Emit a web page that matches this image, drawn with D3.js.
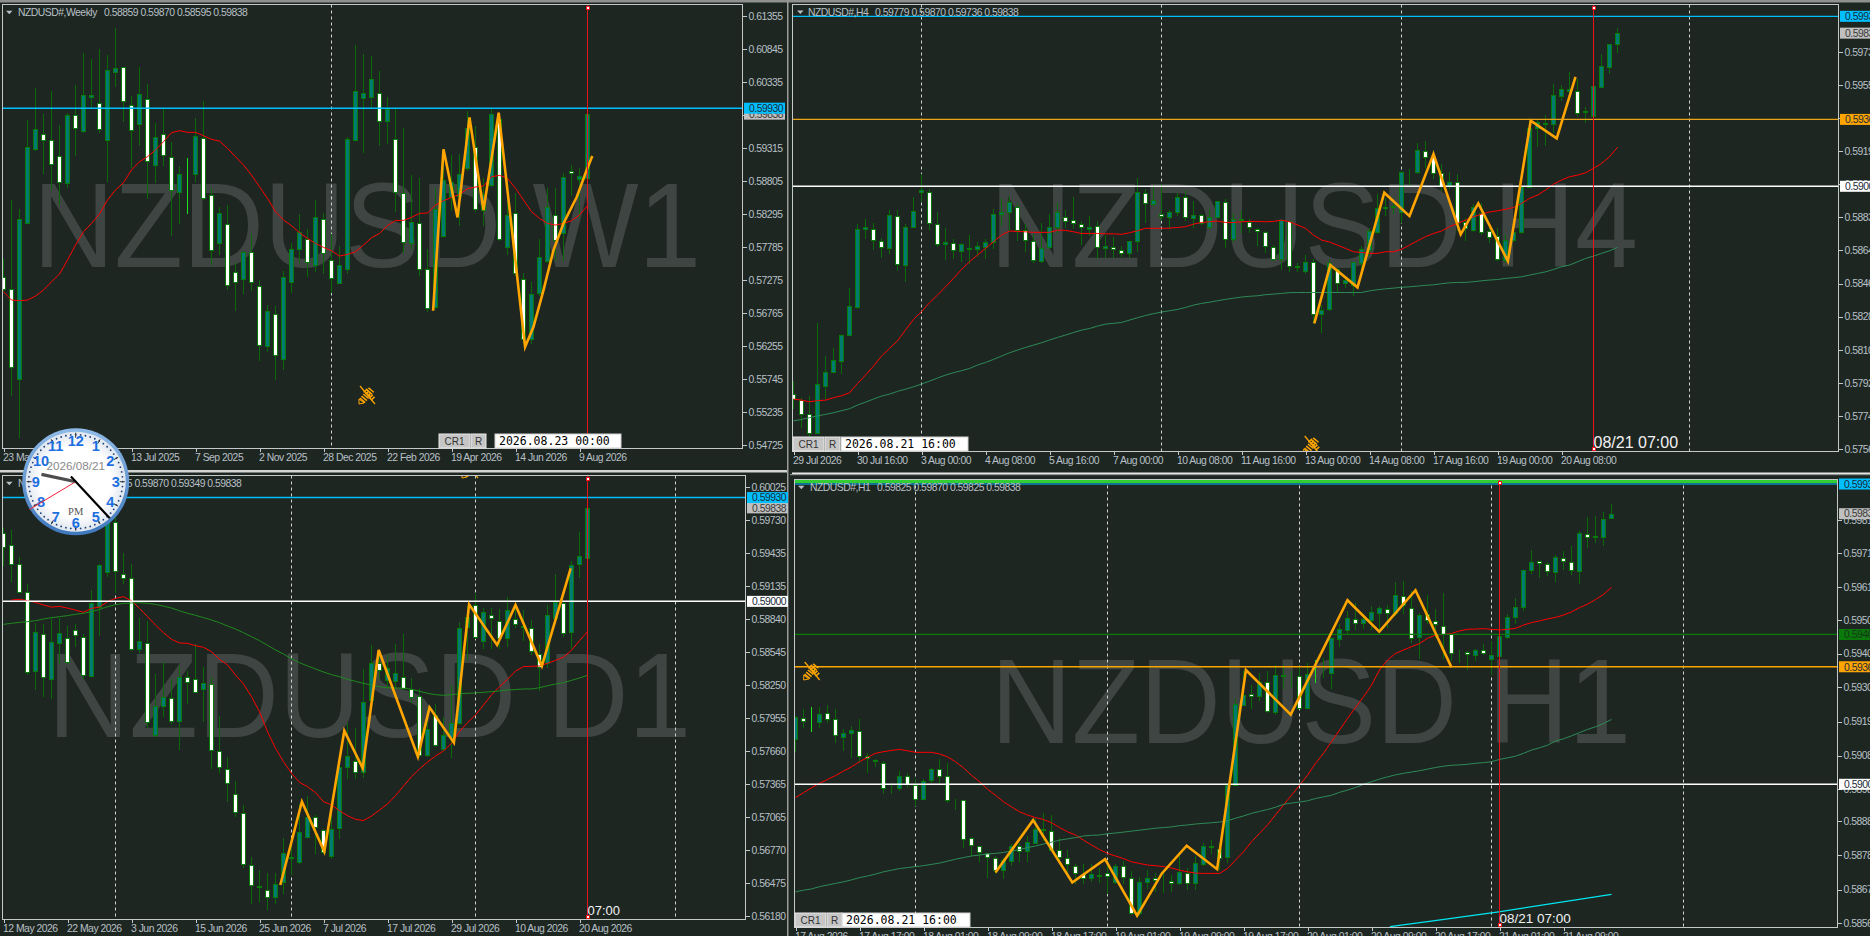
<!DOCTYPE html>
<html><head><meta charset="utf-8">
<script src="https://cdn.jsdelivr.net/npm/d3@7/dist/d3.min.js"></script>
<style>html,body{margin:0;padding:0;background:#1e2622;overflow:hidden}svg{display:block}</style>
</head><body><svg id="c" width="1870" height="936"></svg>
<script>
// All prices are in points (1 point = 0.00001). Candles are [open, high, low, close].
const w1Candles=[[57326,57609,57119,57130],[57140,58521,55496,55924],[55738,58382,54847,58212],[58160,59758,58150,59335],[59294,60263,59284,59603],[59536,59851,58923,59433],[59443,60211,58676,59062],[59196,59686,58449,58784],[58779,59876,58717,59820],[59830,60304,59206,59619],[59583,60804,59567,60129],[60108,60701,59928,60129],[60015,60855,59567,59603],[59433,60763,58810,60515],[60484,61180,60273,60546],[60562,60582,59737,60036],[59984,60134,59026,59588],[59680,60582,59361,60144],[60077,60314,58547,59108],[59057,59711,58794,59490],[59536,59943,59052,59201],[59181,59418,57975,58665],[58629,59052,58150,58908],[58892,59170,58315,58892],[58908,59789,58810,59495],[59464,60057,58521,58536],[58593,58707,57521,57733],[57841,58418,57676,58305],[58145,58449,57130,57192],[57393,57557,56810,57238],[57284,57738,57078,57702],[57702,58006,57119,57238],[57186,57284,56037,56264],[56259,56903,56176,56790],[56754,56882,55738,56109],[56048,57429,55898,57315],[57238,57861,57088,57748],[57748,58305,57557,58021],[57913,58073,57336,57547],[57501,58521,57418,58243],[58222,58320,57387,57686],[57583,57995,57094,57300],[57233,57810,57233,57501],[57439,59500,57387,59449],[59433,60922,59433,60191],[60093,60778,59258,60165],[60098,60752,59954,60376],[60170,60520,59366,59727],[59727,60118,59397,59923],[59459,59928,58346,58629],[58624,59634,57712,57856],[57851,58913,57748,58165],[58150,58866,57351,57439],[57449,57764,56800,56836],[56862,58717,56836,58366],[57954,59284,57944,58820],[58552,59222,58356,58784],[58573,59232,58129,58908],[59000,59902,58975,59619],[59335,59670,58346,58366],[58356,58871,58124,58588],[58743,59928,58727,59835],[59758,59825,57892,57913],[57789,58562,57676,58274],[58305,58640,57351,57377],[57284,57398,56321,56367],[56357,57264,56305,57052],[57068,57923,57042,57624],[57573,58717,57557,58397],[58279,58717,57583,57892],[57995,58949,57583,58861],[58964,59067,58588,58923],[58840,59026,58253,58877],[58859,59870,58595,59838]];
const w1Red=[57094,56965,56955,56965,57027,57119,57248,57367,57583,57815,58021,58150,58294,58511,58665,58779,58975,59103,59181,59284,59413,59552,59583,59557,59557,59505,59449,59423,59309,59181,59052,58897,58717,58536,58330,58202,58114,58006,57918,57841,57779,57727,57645,57671,57712,57815,57928,57995,58114,58196,58196,58243,58305,58310,58433,58500,58552,58598,58686,58712,58727,58871,58892,58846,58691,58511,58330,58227,58150,58124,58150,58191,58279,58423];
const w1ZigIndex=[53.7,55.0,56.75,58.25,60.0,61.9,65.2,66.25,67.5,68.75,70,71.67,72.9,73.6];
const w1ZigPrice=[56800,59294,58243,59789,58356,59861,56243,56553,57119,57738,58150,58562,58975,59191];
const w1PriceTicks=[61355,60845,60335,59825,59315,58805,58295,57785,57275,56765,56255,55745,55235,54725];
const w1TimeLabels=["23 Mar 2025","18 May 2025","13 Jul 2025","7 Sep 2025","2 Nov 2025","28 Dec 2025","22 Feb 2026","19 Apr 2026","14 Jun 2026","9 Aug 2026"];
const w1Grid=[41,113];

const d1Candles=[[59610,59669,59326,59490],[59508,59645,59185,59332],[59338,59406,59081,59081],[59087,59161,58349,58364],[58373,58818,58218,58722],[58710,58803,58155,58319],[58307,58863,58137,58633],[58630,58863,58445,58713],[58675,58788,58445,58453],[58746,58803,58603,58698],[58683,58713,58310,58337],[58334,59108,58334,58988],[58946,59341,58698,59323],[59260,59998,59230,59759],[59714,59819,59087,59269],[59248,59439,59167,59206],[59212,59341,58564,58576],[58570,58863,58549,58642],[58630,58833,57877,57922],[57799,58355,57793,58059],[58065,58465,57976,58146],[58137,58310,57913,57925],[57925,58430,57680,58325],[58325,58385,58092,58274],[58307,58624,58185,58185],[58212,58421,57931,58265],[58262,58334,57510,57665],[57662,57982,57474,57513],[57501,57614,57214,57369],[57277,57399,57079,57109],[57106,57181,56616,56643],[56640,56721,56294,56455],[56452,56602,56318,56437],[56416,56578,56246,56348],[56354,56578,56300,56470],[56488,56885,56389,56742],[56712,56832,56557,56697],[56661,57190,56658,56936],[56891,57265,56891,57070],[57070,57091,56748,56975],[56954,56966,56742,56751],[56721,57220,56697,56963],[56966,57548,56882,57513],[57519,57922,57420,57617],[57572,57877,57420,57468],[57468,58400,57429,58095],[58116,58615,58116,58450],[58447,58564,58310,58385],[58295,58534,58235,58400],[58289,58624,58221,58355],[58325,58713,58215,58221],[58212,58319,58095,58146],[58152,58221,57614,57623],[57623,58041,57617,57859],[57982,58086,57704,57710],[57677,57973,57668,57802],[57787,58259,57602,57913],[57907,58824,57901,58764],[58767,58967,58474,58863],[58970,59072,58675,58680],[58648,58952,58579,58908],[58878,58952,58579,58848],[58827,58937,58585,58675],[58669,59048,58603,58925],[58842,58967,58773,58797],[58767,58928,58654,58779],[58761,58842,58528,58552],[58528,58624,58206,58415],[58450,58976,58409,58881],[58854,59251,58848,58991],[58982,59012,58692,58713],[58722,59371,58582,59329],[59332,59630,59221,59403],[59385,59870,59349,59838]];
const d1Red=[null,59012,59018,59006,58991,58967,58949,58955,58940,58922,58902,58937,58949,58997,59027,59042,59006,58937,58863,58788,58719,58660,58627,58624,58603,58588,58549,58480,58430,58340,58259,58146,58011,57832,57683,57563,57459,57378,57339,57286,57205,57175,57124,57079,57047,57035,57076,57130,57184,57259,57345,57429,57498,57560,57614,57659,57728,57832,57913,57982,58071,58161,58235,58301,58376,58415,58418,58421,58445,58471,58501,58561,58648,58728];
const d1Green=[58794,58803,58812,58818,58827,58842,58854,58863,58872,58884,58893,58908,58928,58952,58970,58982,58985,58988,58982,58973,58958,58940,58916,58893,58875,58854,58833,58809,58779,58752,58719,58683,58648,58606,58564,58528,58486,58450,58421,58394,58367,58343,58325,58301,58283,58265,58250,58235,58226,58224,58221,58212,58194,58176,58164,58158,58164,58173,58176,58179,58185,58191,58197,58206,58209,58215,58215,58226,58244,58259,58271,58292,58313,58337];
const d1ZigIndex=[34.6,37.3,40.1,42.6,44.9,46.9,51.8,53.25,56.3,58.2,61.7,64,67.3,70.9];
const d1ZigPrice=[56458,57205,56757,57841,57504,58564,57608,58050,57734,58973,58609,58967,58421,59296];
const d1PriceTicks=[60025,59730,59435,59135,58840,58545,58250,57955,57660,57365,57065,56770,56475,56180];
const d1TimeLabels=["12 May 2026","22 May 2026","3 Jun 2026","15 Jun 2026","25 Jun 2026","7 Jul 2026","17 Jul 2026","29 Jul 2026","10 Aug 2026","20 Aug 2026"];
const d1Grid=[14,36,59,84];

const h4Candles=[[57863,57940,57785,57836],[57832,57848,57681,57752],[57754,57858,57630,57651],[57651,58259,57648,57921],[57909,58076,57839,57982],[57982,58122,57982,58047],[58045,58199,57980,58184],[58184,58450,58184,58345],[58341,58801,58332,58766],[58764,58824,58719,58775],[58768,58806,58656,58706],[58702,58724,58615,58666],[58664,58875,58633,58841],[58839,58875,58542,58574],[58571,58797,58483,58775],[58775,58946,58775,58866],[58970,59071,58919,58979],[58970,58988,58768,58799],[58795,58864,58675,58687],[58686,58779,58604,58693],[58691,58715,58605,58651],[58647,58697,58593,58682],[58657,58739,58578,58660],[58655,58700,58618,58671],[58669,58715,58609,58697],[58697,58884,58664,58846],[58846,58943,58788,58857],[58857,58952,58760,58915],[58886,58915,58706,58760],[58760,58801,58647,58706],[58702,58742,58587,58596],[58593,58806,58587,58664],[58669,58852,58660,58775],[58779,58915,58746,58857],[58833,58874,58779,58812],[58813,58948,58771,58797],[58795,58815,58687,58775],[58768,58843,58733,58779],[58784,58815,58605,58666],[58664,58739,58615,58671],[58669,58728,58615,58655],[58653,58678,58618,58633],[58633,58706,58611,58702],[58702,59052,58647,58967],[58965,58988,58806,58906],[58905,59012,58897,58926],[58848,59016,58815,58835],[58833,58874,58770,58857],[58857,58970,58843,58939],[58943,58979,58815,58830],[58828,58925,58779,58844],[58844,58852,58793,58801],[58775,58884,58771,58833],[58833,58925,58830,58917],[58915,58934,58669,58709],[58709,58861,58697,58819],[58813,58870,58751,58819],[58806,58824,58751,58775],[58768,58779,58678,58753],[58751,58760,58642,58671],[58669,58687,58596,58600],[58600,58824,58545,58815],[58808,58815,58538,58563],[58562,58587,58538,58560],[58538,58629,58523,58587],[58587,58605,58250,58304],[58304,58356,58204,58323],[58326,58605,58323,58578],[58547,58560,58423,58469],[58469,58514,58447,58487],[58460,58593,58405,58584],[58578,58678,58532,58655],[58651,58779,58624,58755],[58751,58961,58742,58884],[58884,58943,58843,58886],[58888,58915,58852,58890],[58861,59089,58806,59076],[59083,59098,59007,59085],[59080,59242,59074,59196],[59195,59253,59103,59160],[59158,59204,59043,59071],[59071,59125,58979,59001],[59001,59085,58988,59025],[59025,59074,58760,58797],[58806,58833,58706,58771],[58760,58906,58757,58888],[58852,58915,58737,58751],[58757,58779,58697,58722],[58729,58775,58596,58600],[58596,58742,58587,58706],[58706,58815,58702,58751],[58751,59007,58742,58994],[58998,59362,58994,59317],[59317,59368,59222,59353],[59339,59395,59226,59344],[59340,59563,59299,59499],[59496,59559,59472,59530],[59523,59632,59472,59530],[59523,59590,59386,59402],[59408,59439,59353,59410],[59386,59585,59344,59548],[59545,59727,59541,59658],[59654,59782,59621,59778],[59779,59870,59736,59838]];
const h4Red=[57836,57830,57821,57827,57830,57843,57854,57870,57921,57967,58016,58071,58113,58155,58213,58272,58314,58363,58405,58450,58496,58545,58587,58624,58660,58697,58733,58755,58753,58751,58748,58748,58748,58760,58759,58751,58742,58742,58742,58740,58740,58737,58746,58757,58770,58770,58770,58771,58775,58779,58793,58802,58806,58810,58802,58802,58806,58808,58808,58806,58808,58815,58806,58788,58770,58733,58706,58695,58678,58660,58642,58638,58633,58633,58642,58642,58655,58678,58702,58724,58742,58755,58779,58797,58815,58833,58848,58859,58866,58874,58884,58906,58934,58952,58979,59012,59034,59052,59061,59074,59098,59125,59162,59213];
const h4Green=[57717,57724,57734,57744,57752,57761,57772,57783,57803,57819,57836,57852,57863,57878,57890,57903,57918,57934,57951,57967,57980,57991,58003,58022,58036,58053,58071,58089,58104,58118,58131,58144,58159,58173,58186,58200,58213,58222,58235,58246,58250,58255,58268,58281,58293,58303,58312,58319,58326,58337,58350,58359,58366,58374,58381,58388,58394,58398,58401,58407,58410,58414,58418,58419,58419,58419,58419,58419,58419,58419,58419,58419,58428,58434,58439,58443,58447,58450,58454,58458,58461,58467,58472,58474,58474,58478,58483,58487,58490,58496,58500,58505,58514,58523,58532,58545,58560,58569,58587,58605,58618,58633,58647,58666];
const h4ZigIndex=[65.1,67.1,70.5,73.85,77,80,83.4,85.6,89.3,92.15,95.4,97.75];
const h4ZigPrice=[58250,58569,58447,58965,58837,59176,58737,58906,58591,59359,59262,59599];
const h4PriceTicks=[59735,59554,59373,59192,59011,58830,58649,58468,58287,58106,57925,57744,57563];
const h4TimeLabels=["29 Jul 2026","30 Jul 16:00","3 Aug 00:00","4 Aug 08:00","5 Aug 16:00","7 Aug 00:00","10 Aug 08:00","11 Aug 16:00","13 Aug 00:00","14 Aug 08:00","17 Aug 16:00","19 Aug 00:00","20 Aug 08:00"];
const h4Grid=[16,46,76,112];

const h1Candles=[[59139,59214,59103,59209],[59205,59235,59176,59196],[59196,59242,59166,59196],[59194,59242,59178,59219],[59221,59250,59194,59201],[59203,59235,59132,59152],[59147,59173,59106,59160],[59160,59183,59083,59169],[59166,59204,59070,59089],[59088,59101,59039,59081],[59076,59080,59056,59071],[59067,59075,58974,58987],[58987,59008,58974,58988],[58987,59044,58982,59026],[59026,59039,58992,59000],[58997,59018,58936,58956],[58956,59018,58954,59011],[59013,59054,59008,59046],[59048,59080,59005,59025],[59026,59070,58946,58950],[58954,58959,58925,58955],[58951,58953,58806,58832],[58834,58841,58781,58811],[58808,58812,58763,58789],[58788,58789,58714,58775],[58772,58781,58726,58734],[58734,58776,58711,58765],[58763,58817,58750,58810],[58809,58822,58763,58793],[58792,58843,58763,58820],[58819,58899,58817,58863],[58858,58913,58827,58863],[58856,58908,58796,58798],[58797,58837,58770,58776],[58772,58799,58726,58753],[58747,58755,58693,58724],[58722,58755,58693,58710],[58711,58755,58701,58721],[58717,58745,58698,58718],[58726,58770,58662,58716],[58698,58757,58693,58748],[58747,58765,58693,58714],[58711,58736,58598,58600],[58600,58716,58595,58698],[58698,58739,58680,58711],[58711,58729,58670,58705],[58704,58734,58667,58705],[58700,58722,58670,58694],[58693,58781,58691,58727],[58725,58745,58676,58695],[58693,58781,58677,58755],[58752,58822,58750,58810],[58810,58832,58786,58805],[58801,58822,58739,58772],[58776,58997,58760,58997],[58997,59266,58997,59250],[59245,59354,59245,59278],[59281,59312,59235,59273],[59275,59348,59261,59317],[59317,59354,59225,59227],[59225,59372,59219,59340],[59340,59372,59297,59334],[59335,59354,59302,59336],[59335,59369,59235,59237],[59237,59379,59235,59343],[59341,59388,59317,59341],[59347,59393,59331,59348],[59346,59457,59297,59452],[59451,59498,59428,59480],[59477,59539,59464,59514],[59512,59565,59481,59498],[59498,59529,59483,59511],[59508,59555,59480,59535],[59531,59555,59475,59545],[59543,59557,59488,59529],[59529,59629,59524,59585],[59584,59632,59529,59555],[59545,59601,59441,59452],[59455,59534,59390,59523],[59526,59589,59498,59508],[59506,59545,59457,59495],[59491,59594,59390,59465],[59464,59470,59385,59408],[59409,59418,59378,59410],[59411,59416,59357,59403],[59399,59421,59385,59415],[59415,59438,59403,59408],[59389,59447,59343,59399],[59398,59488,59397,59459],[59455,59529,59454,59519],[59519,59581,59498,59548],[59550,59668,59541,59663],[59663,59730,59655,59687],[59690,59696,59643,59684],[59683,59691,59648,59660],[59658,59713,59629,59703],[59700,59725,59666,59691],[59688,59741,59651,59665],[59661,59787,59624,59777],[59776,59831,59736,59766],[59767,59834,59751,59768],[59767,59846,59741,59823],[59825,59870,59825,59838]];
const h1Red=[58959,58974,58989,59003,59015,59027,59041,59054,59070,59083,59096,59101,59105,59108,59104,59099,59099,59099,59094,59085,59070,59051,59028,59008,58985,58966,58946,58930,58915,58905,58897,58891,58881,58866,58853,58843,58827,58812,58798,58786,58778,58770,58760,58755,58750,58748,58745,58741,58734,58729,58725,58724,58724,58724,58739,58765,58791,58822,58848,58874,58905,58936,58966,58997,59028,59065,59096,59132,59168,59204,59238,59271,59307,59354,59385,59405,59416,59426,59436,59452,59462,59464,59467,59475,59480,59481,59482,59480,59478,59480,59483,59493,59501,59506,59512,59517,59524,59534,59547,59558,59572,59588,59610];
const h1Green=[58667,58672,58676,58683,58688,58693,58698,58704,58711,58716,58722,58729,58734,58739,58742,58745,58748,58752,58756,58762,58768,58773,58778,58781,58784,58786,58789,58793,58798,58804,58809,58815,58821,58827,58831,58835,58840,58842,58843,58847,58849,58852,58855,58858,58861,58864,58866,58868,58872,58874,58877,58879,58881,58883,58887,58895,58902,58910,58916,58922,58929,58938,58942,58945,58949,58956,58961,58966,58975,58982,58990,59000,59008,59016,59023,59029,59034,59038,59042,59047,59052,59056,59059,59060,59062,59065,59067,59070,59077,59082,59087,59096,59106,59113,59121,59134,59141,59150,59160,59170,59178,59188,59201];
const h1ZigIndex=[25,29.7,34.6,38.7,42.7,45.8,48.9,52.7,56.3,61.9,69,72.97,77.5,82];
const h1ZigPrice=[58727,58889,58696,58768,58593,58724,58810,58737,59354,59216,59570,59473,59601,59362];
const h1CyanIndex=[74.3,79.7,87.9,102.0];
const h1CyanPrice=[58559,58577,58605,58659];
const h1PriceTicks=[59818,59715,59612,59509,59405,59300,59194,59089,58984,58885,58780,58674,58569];
const h1TimeLabels=["17 Aug 2026","17 Aug 17:00","18 Aug 01:00","18 Aug 09:00","18 Aug 17:00","19 Aug 01:00","19 Aug 09:00","19 Aug 17:00","20 Aug 01:00","20 Aug 09:00","20 Aug 17:00","21 Aug 01:00","21 Aug 09:00"];
const h1Grid=[15,39,63,87,111];

const BLUE="#00bfff",ORANGE="#ffa500",WHITE="#ffffff",LIME="#32cd32";
const TEAL="#007b72",EDGE="#087a0a",WICK="#0a6a0a",BG="#1e2622",AXIS="#b8c0c6",FRAME="#c4c8c8";
const FONT="'Liberation Sans',Arial,sans-serif";

const panels=[
 {id:"w1",frame:[2.5,742.5,4.5,448.5],x0:3.5,dom:[61355,54725],rng:[16,445],candles:w1Candles,
  mas:[{d:w1Red,c:"#ff0000"}],zigI:w1ZigIndex,zigP:w1ZigPrice,ticks:w1PriceTicks,labels:w1TimeLabels,grid:w1Grid,
  levels:[{p:59930,c:BLUE,w:1.5,label:"0.59930"}],lastLabel:59838,vline:73,squares:["top"],
  title:"NZDUSD#,Weekly",ohlc:"0.58859 0.59870 0.58595 0.59838",titleAt:[18,104,12.7],tri:9,
  mark:{t:"NZDUSD W1",x:33,len:668,y:266.5},box:{x:439,y:434,date:"2026.08.23 00:00",dx:495,dw:126},
  icons:[[367,395]]},
 {id:"d1",frame:[2.5,745.5,475.5,919.5],x0:3.5,dom:[60025,56180],rng:[487,916],candles:d1Candles,
  mas:[{d:d1Red,c:"#ff0000"},{d:d1Green,c:"#1f8a1f"}],zigI:d1ZigIndex,zigP:d1ZigPrice,ticks:d1PriceTicks,labels:d1TimeLabels,grid:d1Grid,
  levels:[{p:59930,c:BLUE,w:1.5,label:"0.59930"},{p:59000,c:WHITE,w:1.5,label:"0.59000"}],lastLabel:59838,vline:73,squares:["top","bottom"],
  title:"NZDUSD#,Daily",ohlc:"0.59385 0.59870 0.59349 0.59838",titleAt:[18,98,483.7],tri:9,
  mark:{t:"NZDUSD D1",x:48,len:643,y:737},vtext:{t:"07:00",s:13,y:910},icons:[[470,469]]},
 {id:"h4",frame:[792.5,1838.5,4.5,451.5],x0:793.5,dom:[59930,59000],rng:[16.33,186.3],candles:h4Candles,
  mas:[{d:h4Red,c:"#ff0000"},{d:h4Green,c:"#2e8b57"}],zigI:h4ZigIndex,zigP:h4ZigPrice,ticks:h4PriceTicks,labels:h4TimeLabels,grid:h4Grid,
  levels:[{p:59930,c:BLUE,w:1.2,label:"0.59930"},{p:59366,c:"#e8a317",w:1.2,label:"0.59366",bg:ORANGE},{p:59000,c:WHITE,w:1.5,label:"0.59000"}],lastLabel:59838,vline:100,squares:["top","bottom"],
  title:"NZDUSD#,H4",ohlc:"0.59779 0.59870 0.59736 0.59838",titleAt:[808,875,12.4],tri:800,
  mark:{t:"NZDUSD H4",x:990,len:648,y:267},vtext:{t:"08/21 07:00",s:16,y:442},box:{x:793,y:437,date:"2026.08.21 16:00",dx:841,dw:127},
  icons:[[1311.7,445]]},
 {id:"h1",frame:[794.5,1837.5,479.5,927.5],x0:795.5,dom:[59930,59000],rng:[484,784.3],candles:h1Candles,
  mas:[{d:h1Red,c:"#ff0000"},{d:h1Green,c:"#2e8b57"}],zigI:h1ZigIndex,zigP:h1ZigPrice,ticks:h1PriceTicks,labels:h1TimeLabels,grid:h1Grid,
  levels:[{p:59939,c:LIME,w:4},{p:59930,c:BLUE,w:1.2,label:"0.59930"},{p:59464,c:"#0a7a0a",w:1.2,label:"0.59464",fg:"#14381a"},{p:59364,c:ORANGE,w:1.5,label:"0.59364"},{p:59000,c:WHITE,w:1.5,label:"0.59000"}],lastLabel:59838,vline:88,squares:["top","bottom"],
  title:"NZDUSD#,H1",ohlc:"0.59825 0.59870 0.59825 0.59838",titleAt:[810,877,487.7],tri:801,
  mark:{t:"NZDUSD H1",x:991,len:640,y:743},vtext:{t:"08/21 07:00",s:13.5,y:918},box:{x:795,y:913,date:"2026.08.21 16:00",dx:842,dw:128},
  icons:[[811.7,671]],extra:{i:h1CyanIndex,p:h1CyanPrice,c:"#00e6f0"}}
];

const svg=d3.select("#c");
svg.append("rect").attr("width",1870).attr("height",936).attr("fill",BG);
// window chrome
const chrome=[[0,0,1870,2.5,"#8e9190"],[0,470,788,2.5,"#d4d4d4"],[792,472.5,1078,2,"#e6e6e6"],[787,0,1.5,936,"#9a9c9b"],[790,474,1080,1.2,"#8e9190"]];
svg.selectAll("rect.ch").data(chrome).join("rect").attr("class","ch").attr("x",d=>d[0]).attr("y",d=>d[1]).attr("width",d=>d[2]).attr("height",d=>d[3]).attr("fill",d=>d[4]);

const defs=svg.append("defs");
const fmt=p=>"0."+p;
const smallText=s=>s.attr("font-family",FONT).attr("font-size",10.4).attr("letter-spacing","-0.5");

panels.forEach(P=>{
  const [L,R,T,B]=P.frame;
  const x=d3.scaleLinear().domain([0,1]).range([P.x0,P.x0+8]);
  const y=d3.scaleLinear().domain(P.dom).range(P.rng);
  const g=svg.append("g").attr("id",P.id);
  defs.append("clipPath").attr("id","clip-"+P.id).append("rect").attr("x",L).attr("y",T).attr("width",R-L).attr("height",B-T);
  const plot=g.append("g").attr("clip-path",`url(#clip-${P.id})`);

  // watermark
  plot.append("text").attr("x",P.mark.x).attr("y",P.mark.y).attr("textLength",P.mark.len).attr("lengthAdjust","spacingAndGlyphs")
    .attr("font-family",FONT).attr("font-size",120).attr("fill","#3f4543").text(P.mark.t);

  // grid
  plot.selectAll("line.grid").data(P.grid).join("line").attr("class","grid")
    .attr("x1",d=>x(d)).attr("x2",d=>x(d)).attr("y1",T).attr("y2",B)
    .attr("stroke","#d0d4d2").attr("stroke-dasharray","3,3").attr("stroke-width",1);

  // candles
  const c=plot.selectAll("g.c").data(P.candles).join("g").attr("class","c");
  const Y=v=>Math.round(y(v))+0.5;
  c.append("line").attr("x1",(d,i)=>x(i)).attr("x2",(d,i)=>x(i)).attr("y1",d=>Y(d[1])).attr("y2",d=>Y(d[2]))
    .attr("stroke",d=>d[0]===d[3]?"#1ee01e":WICK).attr("stroke-width",1).attr("shape-rendering","crispEdges");
  c.append("rect")
    .attr("x",(d,i)=>x(i)-2).attr("width",4)
    .attr("y",d=>Math.min(Y(d[0]),Y(d[3])))
    .attr("height",d=>Math.abs(Y(d[0])-Y(d[3])))
    .attr("fill",d=>d[3]>d[0]?TEAL:"#ffffff")
    .attr("stroke",d=>d[0]===d[3]?"#1ee01e":EDGE).attr("stroke-width",1).attr("shape-rendering","crispEdges");

  // moving averages
  const line=d3.line().defined(d=>d!=null).x((d,i)=>x(i)).y(d=>y(d));
  P.mas.forEach(m=>plot.append("path").attr("d",line(m.d)).attr("fill","none").attr("stroke",m.c).attr("stroke-width",1));

  if(P.extra){
    const ex=d3.line().x((d,i)=>x(P.extra.i[i])).y(d=>y(d));
    plot.append("path").attr("d",ex(P.extra.p)).attr("fill","none").attr("stroke",P.extra.c).attr("stroke-width",1.3);
  }

  // horizontal levels
  plot.selectAll("line.lvl").data(P.levels).join("line").attr("class","lvl")
    .attr("x1",L).attr("x2",R).attr("y1",d=>y(d.p)).attr("y2",d=>y(d.p))
    .attr("stroke",d=>d.c).attr("stroke-width",d=>d.w);

  // zigzag
  const zig=d3.line().x((d,i)=>x(P.zigI[i])).y(d=>y(d));
  plot.append("path").attr("d",zig(P.zigP)).attr("fill","none").attr("stroke",ORANGE).attr("stroke-width",2.6).attr("stroke-linejoin","miter");

  // vertical marker
  const vx=x(P.vline);
  plot.append("line").attr("x1",vx).attr("x2",vx).attr("y1",T).attr("y2",B).attr("stroke","#e8141c").attr("stroke-width",1).attr("shape-rendering","crispEdges");
  P.squares.forEach(s=>{
    g.append("rect").attr("x",vx-1.5).attr("y",(s==="top"?T+3:B-3)-1.5).attr("width",3).attr("height",3)
     .attr("fill","#fff").attr("stroke","#e8141c").attr("shape-rendering","crispEdges");
  });
  if(P.vtext) plot.append("text").attr("x",vx).attr("y",P.vtext.y).attr("dy","0.36em")
     .attr("font-family",FONT).attr("font-size",P.vtext.s).attr("fill","#f2f2f2").text(P.vtext.t);

  // icons
  P.icons.forEach(([ix,iy])=>{
    const k=plot.append("g").attr("transform",`translate(${ix},${iy})`).attr("fill","none").attr("stroke",ORANGE);
    k.append("path").attr("d","M-7,-9L8,9").attr("stroke-width",1.2);
    k.append("path").attr("d","M-5,6L5,-6").attr("stroke-width",7).attr("stroke-dasharray","1.5,1.2");
    k.append("path").attr("d","M-2,-5L7,5").attr("stroke-width",5).attr("stroke-dasharray","1.5,1.2");
    k.append("path").attr("d","M-8,4L-3,8L-8,9Z").attr("stroke-width",1);
  });

  // frame
  g.append("rect").attr("x",L).attr("y",T).attr("width",R-L).attr("height",B-T).attr("fill","none").attr("stroke",FRAME).attr("stroke-width",1);

  // axes
  const right=d3.axisRight(y).tickValues(P.ticks).tickFormat(fmt).tickSize(4).tickPadding(2);
  const ay=g.append("g").attr("transform",`translate(${R},0)`).call(right);
  const bottom=d3.axisBottom(x).tickValues(P.labels.map((d,i)=>i*8)).tickFormat((d,i)=>P.labels[i]).tickSize(3).tickPadding(2);
  const ax=g.append("g").attr("transform",`translate(0,${B})`).call(bottom);
  [ay,ax].forEach(a=>{
    a.select(".domain").remove();
    a.selectAll("line").attr("stroke",FRAME).attr("shape-rendering","crispEdges");
    smallText(a.selectAll("text")).attr("fill",AXIS);
  });
  ax.selectAll("text").attr("text-anchor","start").attr("dx",-1);

  // price labels
  const tags=[{p:P.lastLabel,bg:"#c0c0c0",fg:"#3a3a3a",label:fmt(P.lastLabel)}].concat(
    P.levels.filter(d=>d.label).map(d=>({p:d.p,bg:d.bg||d.c,fg:d.fg||"#1a2a3a",label:d.label})));
  const lab=g.selectAll("g.tag").data(tags).join("g").attr("class","tag").attr("transform",d=>`translate(${R+1.5},${y(d.p)})`);
  lab.append("rect").attr("x",0).attr("y",-5.5).attr("width",41).attr("height",11).attr("fill",d=>d.bg);
  smallText(lab.append("text").attr("x",5).attr("dy","0.36em")).attr("fill",d=>d.fg).text(d=>d.label);

  // header
  const [tx,vx2,ty]=P.titleAt;
  g.append("path").attr("d",`M${P.tri-3},${ty-2}h6.5l-3.2,3.5z`).attr("fill",AXIS);
  [[tx,P.title],[vx2,P.ohlc]].forEach(([a,b])=>smallText(g.append("text").attr("x",a).attr("y",ty).attr("dy","0.36em")).attr("fill",AXIS).text(b));

  // CR1 / R / date box
  if(P.box){
    const b=g.append("g");
    [[P.box.x,31,"CR1"],[P.box.x+32,15,"R"]].forEach(([bx,bw,t])=>{
      b.append("rect").attr("x",bx).attr("y",P.box.y).attr("width",bw).attr("height",14).attr("fill","#c6c6c6").attr("stroke","#e8e8e8");
      b.append("text").attr("x",bx+bw/2).attr("y",P.box.y+7).attr("dy","0.36em").attr("text-anchor","middle")
       .attr("font-family",FONT).attr("font-size",10).attr("fill","#333").text(t);
    });
    b.append("rect").attr("x",P.box.dx).attr("y",P.box.y).attr("width",P.box.dw).attr("height",14).attr("fill","#fff").attr("stroke","#d0d0d0");
    b.append("text").attr("x",P.box.dx+4).attr("y",P.box.y+7).attr("dy","0.36em")
     .attr("font-family","'DejaVu Sans Mono',monospace").attr("font-size",11.5).attr("fill","#000").text(P.box.date);
  }
});

// Clock widget
const clockNumbers=[12,1,2,3,4,5,6,7,8,9,10,11];
const clockDate="2026/08/21", clockHalf="PM";
const handAngles={hour:282,minute:137,second:239};
const cx=75.7,cy=481.7;
const clock=svg.append("g").attr("transform",`translate(${cx},${cy})`);
const grad=defs.append("radialGradient").attr("id","face");
grad.append("stop").attr("offset","0.7").attr("stop-color","#ffffff");
grad.append("stop").attr("offset","1").attr("stop-color","#dfe6ee");
const rim=defs.append("linearGradient").attr("id","rim").attr("x1",0).attr("y1",0).attr("x2",0).attr("y2",1);
rim.append("stop").attr("offset","0").attr("stop-color","#8fbbe8");
rim.append("stop").attr("offset","1").attr("stop-color","#3f78bd");
clock.append("circle").attr("r",53.5).attr("fill","url(#rim)");
clock.append("circle").attr("r",50).attr("fill","url(#face)");
const ang=d3.scaleLinear().domain([0,60]).range([0,360]);
clock.selectAll("circle.dot").data(d3.range(60)).join("circle").attr("class","dot")
  .attr("cx",d=>47*Math.sin(ang(d)*Math.PI/180)).attr("cy",d=>-47*Math.cos(ang(d)*Math.PI/180))
  .attr("r",0.9).attr("fill","#1c3f7a");
clock.selectAll("line.tk").data(d3.range(0,60,5)).join("line").attr("class","tk")
  .attr("x1",d=>44*Math.sin(ang(d)*Math.PI/180)).attr("y1",d=>-44*Math.cos(ang(d)*Math.PI/180))
  .attr("x2",d=>49*Math.sin(ang(d)*Math.PI/180)).attr("y2",d=>-49*Math.cos(ang(d)*Math.PI/180))
  .attr("stroke","#333").attr("stroke-width",1);
clock.selectAll("text.n").data(clockNumbers).join("text").attr("class","n")
  .attr("x",(d,i)=>40*Math.sin(i*30*Math.PI/180)).attr("y",(d,i)=>-41*Math.cos(i*30*Math.PI/180))
  .attr("dy","0.36em").attr("text-anchor","middle").attr("font-family",FONT).attr("font-weight","bold").attr("font-size",14.5).attr("fill","#1c6fe0").text(d=>d);
clock.append("text").attr("y",-15.5).attr("dy","0.36em").attr("text-anchor","middle").attr("font-family",FONT).attr("font-size",11.7).attr("fill","#8a8a8a").text(clockDate);
clock.append("text").attr("y",30).attr("dy","0.36em").attr("text-anchor","middle").attr("font-family","'Liberation Serif',serif").attr("font-size",10.5).attr("fill","#555").text(clockHalf);
const hand=(a,len,tail,col,w)=>clock.append("line")
  .attr("x1",-tail*Math.sin(a*Math.PI/180)).attr("y1",tail*Math.cos(a*Math.PI/180))
  .attr("x2",len*Math.sin(a*Math.PI/180)).attr("y2",-len*Math.cos(a*Math.PI/180))
  .attr("stroke",col).attr("stroke-width",w);
hand(handAngles.second,54,0,"#f0203a",1);
hand(handAngles.hour,35,-1,"#4d4d4d",3.2);
hand(handAngles.minute,50,7,"#000",2.2);
</script></body></html>
